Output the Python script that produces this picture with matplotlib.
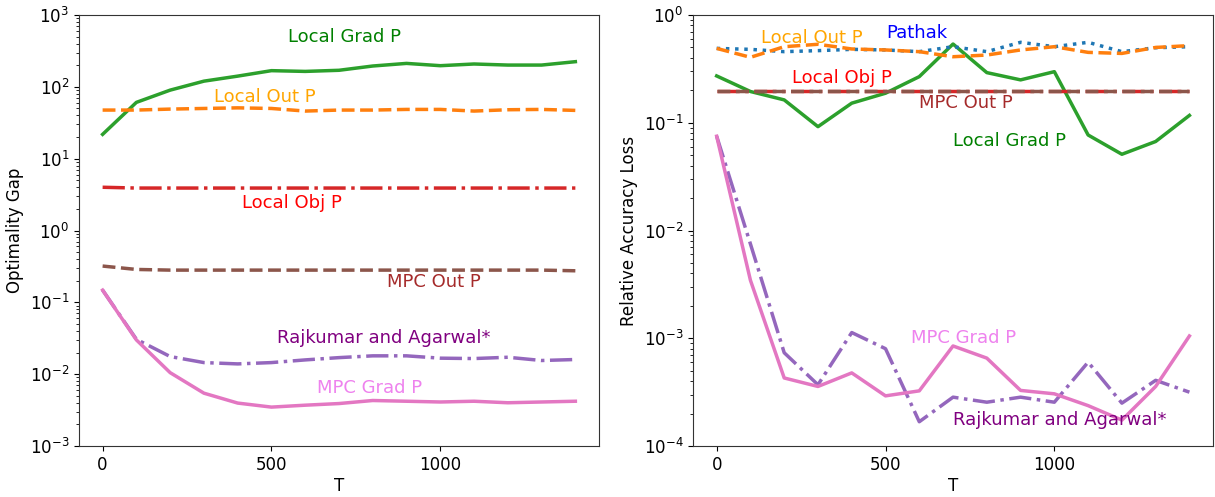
import matplotlib
matplotlib.use("Agg")
from matplotlib import pyplot as plt
from matplotlib.ticker import MultipleLocator

T = [0, 100, 200, 300, 400, 500, 600, 700, 800, 900, 1000, 1100, 1200, 1300, 1400]

# left panel: optimality gap
gap_local_grad = [21.8, 60.8, 90, 120, 141, 168, 164, 170, 195, 212, 197, 208, 201, 201, 224]
gap_local_out = [47.5, 47.5, 49.0, 50, 51, 50, 46, 47.5, 47.5, 48.5, 48.5, 46, 48, 48.5, 47]
gap_local_obj = [4.0, 3.9, 3.9, 3.9, 3.9, 3.9, 3.9, 3.9, 3.9, 3.9, 3.9, 3.9, 3.9, 3.9, 3.9]
gap_mpc_out = [0.32, 0.287, 0.281, 0.281, 0.281, 0.281, 0.281, 0.281, 0.281, 0.281, 0.281, 0.281, 0.281, 0.281, 0.275]
gap_rajkumar = [0.148, 0.0306, 0.0176, 0.0145, 0.0139, 0.0145, 0.0158, 0.017, 0.018, 0.018, 0.0167, 0.0165, 0.0172, 0.0155, 0.016]
gap_mpc_grad = [0.148, 0.030, 0.0105, 0.00544, 0.00396, 0.00348, 0.0037, 0.0039, 0.0043, 0.0042, 0.0041, 0.0042, 0.0040, 0.0041, 0.0042]

# right panel: relative accuracy loss
acc_local_grad = [0.272, 0.195, 0.163, 0.092, 0.152, 0.188, 0.268, 0.538, 0.292, 0.25, 0.298, 0.077, 0.051, 0.067, 0.117]
acc_pathak = [0.49, 0.48, 0.457, 0.467, 0.48, 0.474, 0.457, 0.508, 0.457, 0.558, 0.508, 0.558, 0.457, 0.497, 0.508]
acc_local_out = [0.49, 0.405, 0.508, 0.535, 0.484, 0.474, 0.457, 0.41, 0.425, 0.474, 0.508, 0.45, 0.44, 0.5, 0.52]
acc_local_obj = [0.199] * 15
acc_mpc_out = [0.196] * 15
acc_rajkumar = [0.075, 0.0075, 0.000734, 0.00037, 0.00113, 0.0008, 0.000168, 0.000284, 0.000255, 0.000284,
                0.000255, 0.0006, 0.00025, 0.000407, 0.000316]
acc_mpc_grad = [0.075, 0.00345, 0.000428, 0.000357, 0.000477, 0.000292, 0.000325, 0.000848, 0.000654, 0.000328,
                0.000305, 0.000237, 0.000174, 0.000357, 0.00105]

LW = 2.5
FS = 13

fig = plt.figure(figsize=(12.15, 4.97), dpi=100)
ax1 = fig.add_axes([0.065, 0.1026, 0.428, 0.8672])
ax2 = fig.add_axes([0.5704, 0.1026, 0.428, 0.8672])

# left
ax1.plot(T, gap_local_grad, color='tab:green', lw=LW)
ax1.plot(T, gap_local_out, color='tab:orange', lw=LW, ls='--')
ax1.plot(T, gap_local_obj, color='tab:red', lw=LW, ls='-.')
ax1.plot(T, gap_mpc_out, color='tab:brown', lw=LW, ls='--')
ax1.plot(T, gap_rajkumar, color='tab:purple', lw=LW, ls='-.')
ax1.plot(T, gap_mpc_grad, color='tab:pink', lw=LW)
ax1.set_yscale('log')
ax1.set_ylim(1e-3, 1e3)
ax1.set_xlabel('T', fontsize=12, labelpad=2)
ax1.set_ylabel('Optimality Gap', fontsize=12)

ax1.text(715, 490, 'Local Grad P', color='green', fontsize=FS, ha='center', va='center')
ax1.text(480, 73, 'Local Out P', color='orange', fontsize=FS, ha='center', va='center')
ax1.text(560, 2.45, 'Local Obj P', color='red', fontsize=FS, ha='center', va='center')
ax1.text(982, 0.19, 'MPC Out P', color='brown', fontsize=FS, ha='center', va='center')
ax1.text(832, 0.0316, 'Rajkumar and Agarwal*', color='purple', fontsize=FS, ha='center', va='center')
ax1.text(791, 0.0065, 'MPC Grad P', color='violet', fontsize=FS, ha='center', va='center')

# right
ax2.plot(T, acc_local_grad, color='tab:green', lw=LW)
ax2.plot(T, acc_pathak, color='tab:blue', lw=LW, ls=':')
ax2.plot(T, acc_local_out, color='tab:orange', lw=LW, ls='--')
ax2.plot(T, acc_local_obj, color='tab:red', lw=LW, ls='-.')
ax2.plot(T, acc_mpc_out, color='tab:brown', lw=LW, ls='--')
ax2.plot(T, acc_rajkumar, color='tab:purple', lw=LW, ls='-.')
ax2.plot(T, acc_mpc_grad, color='tab:pink', lw=LW)
ax2.set_yscale('log')
ax2.set_ylim(1e-4, 1)
ax2.set_xlabel('T', fontsize=12, labelpad=2)
ax2.set_ylabel('Relative Accuracy Loss', fontsize=12)

ax2.text(281, 0.61, 'Local Out P', color='orange', fontsize=FS, ha='center', va='center')
ax2.text(592, 0.68, 'Pathak', color='blue', fontsize=FS, ha='center', va='center')
ax2.text(370, 0.26, 'Local Obj P', color='red', fontsize=FS, ha='center', va='center')
ax2.text(737, 0.153, 'MPC Out P', color='brown', fontsize=FS, ha='center', va='center')
ax2.text(867, 0.068, 'Local Grad P', color='green', fontsize=FS, ha='center', va='center')
ax2.text(731, 0.001, 'MPC Grad P', color='violet', fontsize=FS, ha='center', va='center')
ax2.text(1015, 0.000174, 'Rajkumar and Agarwal*', color='purple', fontsize=FS, ha='center', va='center')

for ax in (ax1, ax2):
    ax.xaxis.set_major_locator(MultipleLocator(500))
    ax.tick_params(labelsize=12)
    for sp in ax.spines.values():
        sp.set_color('#333333')

fig.savefig('out.png', dpi=100)
